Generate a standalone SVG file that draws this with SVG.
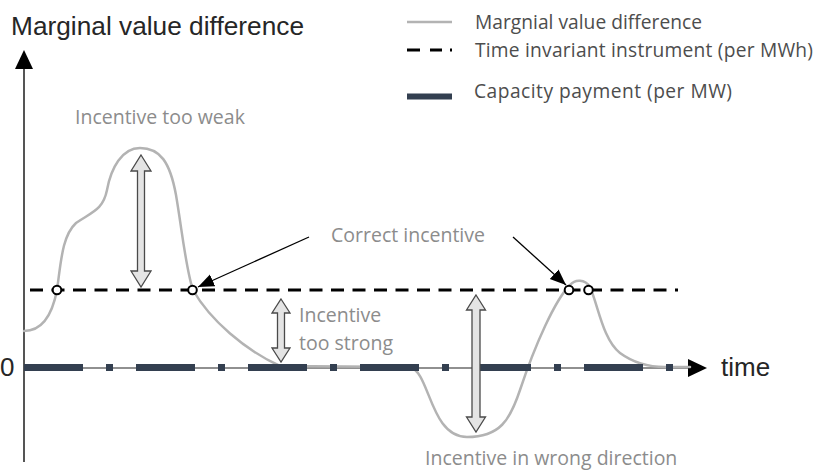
<svg xmlns="http://www.w3.org/2000/svg" width="817" height="472" viewBox="0 0 817 472">
<style>
.title{font-family:"Liberation Sans",Arial,sans-serif;font-size:26px;fill:#262626}
.lbl{font-family:"Open Sans","Noto Sans",sans-serif;font-size:19.5px;fill:#8c8c8c}
.leg{font-family:"Open Sans","Noto Sans",sans-serif;font-size:19.2px;fill:#4d4d4d}
.curve{fill:none;stroke:#b3b3b3;stroke-width:2.5;stroke-linecap:round;stroke-linejoin:round}
.dash{fill:none;stroke:#000;stroke-width:3}
.cap{fill:#333f50}
.dbl{fill:#e4e4e4;stroke:#4a4a4a;stroke-width:1.3;stroke-linejoin:miter}
.call{fill:none;stroke:#000;stroke-width:1.3}
.pt{fill:#fff;stroke:#000;stroke-width:2}
</style>
<defs>
<marker id="ah" markerUnits="userSpaceOnUse" markerWidth="18" markerHeight="14" refX="16" refY="6.5" orient="auto">
<path d="M0,0 L16,6.5 L0,13 Z" fill="#000"/>
</marker>
</defs>
<rect width="817" height="472" fill="#fff"/>

<g id="axes">
<line x1="24" y1="66" x2="24" y2="462" stroke="#555" stroke-width="2"/>
<polygon points="24,50 15,69 33,69" fill="#000"/>
<line x1="24" y1="368" x2="692" y2="368" stroke="#6b6b6b" stroke-width="1.6"/>
<polygon points="707,368 688,359 688,377" fill="#000"/>
<text class="title" x="11" y="35" textLength="293" lengthAdjust="spacingAndGlyphs">Marginal value difference</text>
<text class="title" x="0" y="376">0</text>
<text class="title" x="721" y="376">time</text>
</g>

<g id="marginal-value-curve">
<path class="curve" d="M24,331 C42,331 52,316 57,290 C61,262 62,236 76,223 C92,212 103,210 107,190 C111,168 122,148 140,148 C160,148 170,162 176,195 C182,230 186,270 193,290 C210,320 245,350 280,366 L410,367 C430,372 430,437 467,437 C500,437 510,420 520,390 C535,345 555,300 570,285 C575,279 585,279 590,287 C598,305 603,340 620,353 C635,364 650,367 665,367 L690,367"/>
</g>

<g id="capacity-payment">
<line x1="24" y1="367.5" x2="680" y2="367.5" stroke="#333f50" stroke-width="7" stroke-dasharray="59 23 7 23"/>
</g>

<g id="time-invariant-instrument">
<line class="dash" x1="30" y1="290" x2="678" y2="290" stroke-dasharray="13 8.5"/>
</g>

<g id="connectors">
<line class="call" x1="309" y1="237" x2="198" y2="287" marker-end="url(#ah)"/>
<line class="call" x1="513" y1="237" x2="566" y2="285" marker-end="url(#ah)"/>
</g>

<g id="points">
<circle class="pt" cx="57" cy="290" r="4.3"/>
<circle class="pt" cx="192.5" cy="290" r="4.3"/>
<circle class="pt" cx="569" cy="290" r="4.3"/>
<circle class="pt" cx="588.5" cy="290" r="4.3"/>
</g>

<g id="arrow-too-weak">
<path class="dbl" d="M141,155 L151,171 L144.5,171 L144.5,271 L151,271 L141,287 L131,271 L137.5,271 L137.5,171 L131,171 Z"/>
<text class="lbl" x="75" y="124">Incentive too weak</text>
</g>

<g id="arrow-too-strong">
<path class="dbl" d="M281,299 L290,313 L284.5,313 L284.5,348 L290,348 L281,362 L272,348 L277.5,348 L277.5,313 L272,313 Z"/>
<text class="lbl" x="299" y="322">Incentive</text>
<text class="lbl" x="299" y="350">too strong</text>
</g>

<g id="arrow-wrong-direction">
<path class="dbl" d="M476,295 L485.5,310 L480,310 L480,417 L485.5,417 L476,432 L466.5,417 L472,417 L472,310 L466.5,310 Z"/>
<text class="lbl" x="425" y="465">Incentive in wrong direction</text>
</g>

<g id="correct-incentive">
<text class="lbl" x="331" y="242">Correct incentive</text>
</g>

<g id="legend">
<line x1="407" y1="22" x2="452" y2="22" stroke="#b3b3b3" stroke-width="2.5"/>
<text class="leg" x="475" y="28.5" textLength="227" lengthAdjust="spacing">Margnial value difference</text>
<path d="M407,50 h13 M430,50 h12 M450,50 h2" stroke="#000" stroke-width="3" fill="none"/>
<text class="leg" x="475" y="57" textLength="338" lengthAdjust="spacing">Time invariant instrument (per MWh)</text>
<rect class="cap" x="407" y="93.5" width="45" height="6"/>
<text class="leg" x="474" y="98" textLength="258" lengthAdjust="spacing">Capacity payment (per MW)</text>
</g>
</svg>
